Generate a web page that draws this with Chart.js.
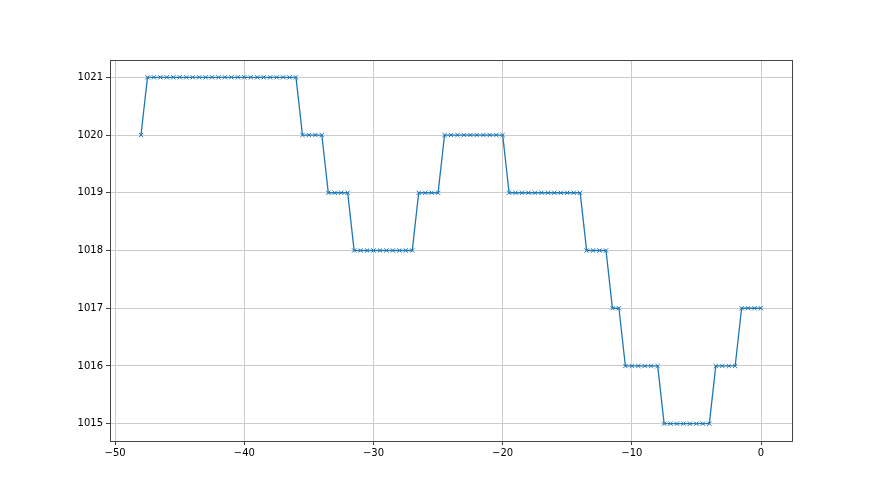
<!DOCTYPE html>
<html>
<head>
<meta charset="utf-8">
<script src="https://cdn.jsdelivr.net/npm/chart.js@4/dist/chart.umd.min.js"></script>
<style>
  html, body { margin: 0; padding: 0; background: #fff; }
  #wrap { width: 880px; height: 495px; }
</style>
</head>
<body>
<div id="wrap"><canvas id="grafico"></canvas></div>
<script>
const horas = [
  -48, -47.5, -47, -46.5, -46, -45.5, -45, -44.5, -44, -43.5, -43, -42.5, -42, -41.5, -41, -40.5,
  -40, -39.5, -39, -38.5, -38, -37.5, -37, -36.5, -36, -35.5, -35, -34.5, -34, -33.5, -33, -32.5,
  -32, -31.5, -31, -30.5, -30, -29.5, -29, -28.5, -28, -27.5, -27, -26.5, -26, -25.5, -25, -24.5,
  -24, -23.5, -23, -22.5, -22, -21.5, -21, -20.5, -20, -19.5, -19, -18.5, -18, -17.5, -17, -16.5,
  -16, -15.5, -15, -14.5, -14, -13.5, -13, -12.5, -12, -11.5, -11, -10.5, -10, -9.5, -9, -8.5,
  -8, -7.5, -7, -6.5, -6, -5.5, -5, -4.5, -4, -3.5, -3, -2.5, -2, -1.5, -1, -0.5, 0
];

const pressao = [
  1020, 1021, 1021, 1021, 1021, 1021, 1021, 1021, 1021, 1021, 1021, 1021, 1021, 1021, 1021, 1021,
  1021, 1021, 1021, 1021, 1021, 1021, 1021, 1021, 1021, 1020, 1020, 1020, 1020, 1019, 1019, 1019,
  1019, 1018, 1018, 1018, 1018, 1018, 1018, 1018, 1018, 1018, 1018, 1019, 1019, 1019, 1019, 1020,
  1020, 1020, 1020, 1020, 1020, 1020, 1020, 1020, 1020, 1019, 1019, 1019, 1019, 1019, 1019, 1019,
  1019, 1019, 1019, 1019, 1019, 1018, 1018, 1018, 1018, 1017, 1017, 1016, 1016, 1016, 1016, 1016,
  1016, 1015, 1015, 1015, 1015, 1015, 1015, 1015, 1015, 1016, 1016, 1016, 1016, 1017, 1017, 1017, 1017
];

const ticksX = [-50, -40, -30, -20, -10, 0];
const ticksY = [1015, 1016, 1017, 1018, 1019, 1020, 1021];

const pontos = horas.map((h, i) => ({ x: h, y: pressao[i] }));

// moldura nos quatro lados, como no matplotlib
const moldura = {
  id: 'moldura',
  beforeDraw(chart) {
    const { ctx } = chart;
    ctx.save();
    ctx.fillStyle = '#fff';
    ctx.fillRect(0, 0, chart.width, chart.height);
    ctx.restore();
  },
  afterDraw(chart) {
    const { ctx, chartArea: a } = chart;
    ctx.save();
    ctx.strokeStyle = '#444';
    ctx.lineWidth = 1;
    ctx.strokeRect(Math.round(a.left) + 0.5, Math.round(a.top) + 0.5,
      Math.round(a.right - a.left), Math.round(a.bottom - a.top));
    ctx.restore();
  }
};

Chart.defaults.font.family = 'DejaVu Sans';
Chart.defaults.font.size = 10;
Chart.defaults.color = '#000';

const ctx = document.getElementById('grafico').getContext('2d');
new Chart(ctx, {
  type: 'scatter',
  data: {
    datasets: [{
      data: pontos,
      showLine: true,
      borderColor: '#1f77b4',
      backgroundColor: '#1f77b4',
      borderWidth: 1.3,
      pointStyle: 'crossRot',
      pointRadius: 3,
      pointBorderWidth: 1,
      pointHoverRadius: 3,
      tension: 0
    }]
  },
  options: {
    responsive: true,
    maintainAspectRatio: false,
    animation: false,
    layout: { padding: { left: 0, top: 60, right: 88, bottom: 0 } },
    plugins: { legend: { display: false }, tooltip: { enabled: false } },
    scales: {
      x: {
        type: 'linear',
        min: -50.4,
        max: 2.4,
        afterFit(scale) { scale.height = 54; },
        afterBuildTicks(scale) { scale.ticks = ticksX.map(v => ({ value: v })); },
        ticks: { padding: 2, callback: v => (v < 0 ? '\u2212' + Math.abs(v) : String(v)) },
        grid: { color: '#cbcbcb', lineWidth: 1, tickColor: '#444', tickLength: 4 },
        border: { display: false }
      },
      y: {
        type: 'linear',
        min: 1014.7,
        max: 1021.3,
        afterFit(scale) { scale.width = 110; },
        afterBuildTicks(scale) { scale.ticks = ticksY.map(v => ({ value: v })); },
        ticks: { padding: 3, callback: v => String(v) },
        grid: { color: '#cbcbcb', lineWidth: 1, tickColor: '#444', tickLength: 4 },
        border: { display: false }
      }
    }
  },
  plugins: [moldura]
});
</script>
</body>
</html>
